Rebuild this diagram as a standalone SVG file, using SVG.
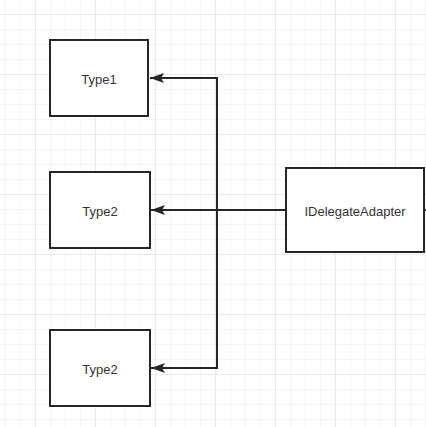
<svg xmlns="http://www.w3.org/2000/svg" width="426" height="427" viewBox="0 0 426 427">
<defs>
<pattern id="gridMinor" x="5" y="14" width="15" height="15" patternUnits="userSpaceOnUse">
<path d="M0 0H15M0 0V15" fill="none" stroke="#ebebeb" stroke-width="1"/>
</pattern>
<pattern id="gridMajor" x="35" y="14" width="60" height="60" patternUnits="userSpaceOnUse">
<path d="M0 0H60M0 0V60" fill="none" stroke="#dedede" stroke-width="1"/>
</pattern>
<marker id="arrow" viewBox="0 0 14 10" refX="14" refY="5" markerWidth="14" markerHeight="10" markerUnits="userSpaceOnUse" orient="auto">
<path d="M0 0L14 5L0 10L3 5Z" fill="#262626"/>
</marker>
</defs>
<style>
.box{fill:#fff;stroke:#262626;stroke-width:2}
.lbl{font-family:"Liberation Sans",Arial,sans-serif;font-size:13px;fill:#333;text-anchor:middle;dominant-baseline:central}
.conn{fill:none;stroke:#262626;stroke-width:2}
</style>
<rect width="426" height="427" fill="#fff"/>
<rect width="426" height="427" fill="url(#gridMinor)"/>
<rect width="426" height="427" fill="url(#gridMajor)"/>
<g id="connectors">
<path class="conn" d="M217 210V78H150" marker-end="url(#arrow)"/>
<path class="conn" d="M217 210V368H151" marker-end="url(#arrow)"/>
<path class="conn" d="M286 210H151" marker-end="url(#arrow)"/>
<path class="conn" d="M424 210H426"/>
</g>
<g id="type1">
<rect class="box" x="50" y="40" width="98" height="76"/>
<text class="lbl" x="99" y="79">Type1</text>
</g>
<g id="type2a">
<rect class="box" x="50" y="172" width="100" height="76"/>
<text class="lbl" x="100" y="211">Type2</text>
</g>
<g id="type2b">
<rect class="box" x="50" y="330" width="100" height="76"/>
<text class="lbl" x="100" y="369">Type2</text>
</g>
<g id="idelegateadapter">
<rect class="box" x="286" y="168" width="138" height="84"/>
<text class="lbl" x="355" y="211">IDelegateAdapter</text>
</g>
</svg>
